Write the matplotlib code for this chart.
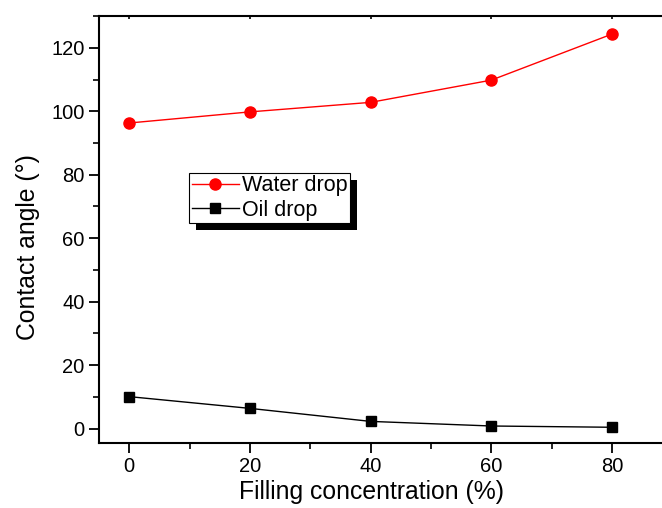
import matplotlib
matplotlib.use("Agg")
import matplotlib.pyplot as plt
from matplotlib.patches import Rectangle
from matplotlib.ticker import MultipleLocator

plt.rcParams['font.family'] = ['Liberation Sans', 'DejaVu Sans']

concentration = [0, 20, 40, 60, 80]
water_drop = [96.3, 99.8, 102.8, 109.8, 124.3]
oil_drop = [10.1, 6.4, 2.3, 0.85, 0.45]

fig = plt.figure(figsize=(6.62, 5.08), dpi=100)
ax = fig.add_axes([98.5/662, 1-443.3/508, 1-98.5/662 + 0.01, (443.3-15.7)/508])

ax.plot(concentration, water_drop, color='#ff0000', lw=1.0, marker='o', ms=8,
        mfc='#ff0000', mec='#ff0000', label='Water drop', zorder=3)
ax.plot(concentration, oil_drop, color='black', lw=1.0, marker='s', ms=6.5,
        mfc='black', mec='black', label='Oil drop', zorder=3)

ax.set_xlim(-5.1, 88.3 + 0.01*662/6.03)
ax.set_ylim(-4.6, 130.1)
ax.xaxis.set_major_locator(MultipleLocator(20))
ax.xaxis.set_minor_locator(MultipleLocator(10))
ax.yaxis.set_major_locator(MultipleLocator(20))
ax.yaxis.set_minor_locator(MultipleLocator(10))
ax.tick_params(axis='both', which='major', direction='out', length=7, width=1.3,
               labelsize=14.5, colors='black', pad=3)
ax.tick_params(axis='both', which='minor', direction='out', length=4, width=1.2)
for s in ['left', 'bottom', 'top']:
    ax.spines[s].set_linewidth(1.5)
ax.spines['right'].set_visible(False)

# top ticks small inward
secx = ax.secondary_xaxis('top')
secx.set_xticks(concentration)
secx.tick_params(direction='in', length=2.5, width=1.2, labeltop=False)
secx.spines['top'].set_visible(False)
ax.tick_params(axis='x', which='both', top=False)

fig.text(371/662, 1-492/508, 'Filling concentration (%)', fontsize=17.8,
         ha='center', va='center')
fig.text(28/662, 1-247/508, 'Contact angle (°)', fontsize=17.8,
         ha='center', va='center', rotation=90)

leg = ax.legend(loc='upper left', bbox_to_anchor=(189/662, 1-172.7/508),
                bbox_transform=fig.transFigure, fontsize=15.5, frameon=True,
                fancybox=False, edgecolor='black', framealpha=1,
                borderpad=0.12, labelspacing=0.15, handlelength=2.2,
                handletextpad=0.15, borderaxespad=0)
leg.get_frame().set_linewidth(0.8)
leg.set_zorder(5)

fig.canvas.draw()
bb = leg.get_frame().get_window_extent(fig.canvas.get_renderer())
shadow = Rectangle((bb.x0 + 7, bb.y0 - 7), bb.width, bb.height, transform=None,
                   facecolor='black', edgecolor='none', zorder=4.9)
ax.add_artist(shadow)

fig.savefig('out.png', dpi=100)
